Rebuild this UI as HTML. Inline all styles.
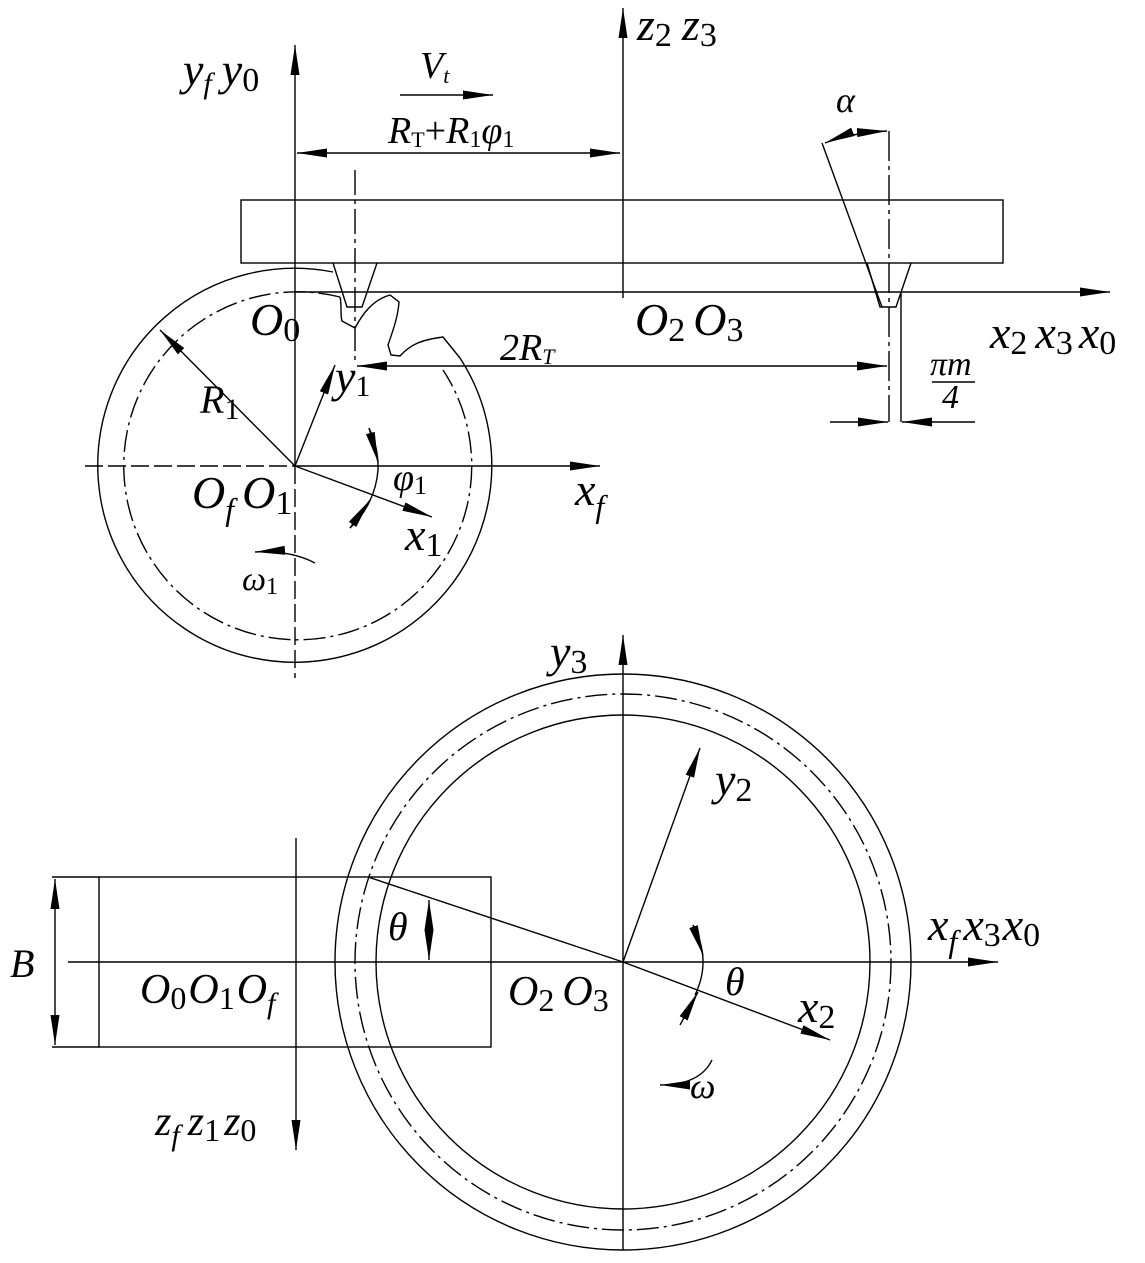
<!DOCTYPE html>
<html><head><meta charset="utf-8"><style>
html,body{margin:0;padding:0;background:#fff}
svg{display:block}
text{font-family:"Liberation Serif",serif;font-style:italic;fill:#000}
</style></head><body>
<svg width="1145" height="1263" viewBox="0 0 1145 1263" xmlns="http://www.w3.org/2000/svg">
<defs>
<marker id="a" viewBox="0 0 10 10" refX="10" refY="5" markerWidth="30" markerHeight="10" markerUnits="userSpaceOnUse" preserveAspectRatio="none" orient="auto-start-reverse"><path d="M0,0.5L10,5L0,9.5z" fill="#000"/></marker>
</defs>
<g stroke="#000" stroke-width="1.4" fill="none">
<path d="M333,272 A197,197 0 1 0 460,358"/>
<path d="M340,297 A174,174 0 1 0 443,370" stroke-dasharray="22,5,3,5"/>
<path d="M340,297 C342,305 340,315 342,321 L355,328 C362,315 372,300 390,295 L399,302 C398,315 395,325 388,345 L391,355 L400,356 C410,345 420,340 443,337 L460,358"/>
<rect x="241" y="200" width="762" height="63"/>
<path d="M333,263 L347,307 L362,307 L377,263"/>
<path d="M867,263 L880,307 L896,307 L911,263"/>
<line x1="355" y1="170" x2="355" y2="365" stroke-dasharray="25,5,4,5"/>
<line x1="889" y1="131" x2="889" y2="422" stroke-dasharray="30,5,4,5"/>
<line x1="901" y1="292" x2="901" y2="422"/>
<line x1="822" y1="143" x2="882" y2="307"/>
<path d="M825,143 Q850,133 887,131" marker-start="url(#a)" marker-end="url(#a)"/>
<line x1="295" y1="292" x2="1110" y2="292" marker-end="url(#a)"/>
<line x1="623" y1="298" x2="623" y2="8" marker-end="url(#a)"/>
<line x1="295" y1="466" x2="295" y2="45" marker-end="url(#a)"/>
<line x1="295" y1="466" x2="295" y2="678" stroke-dasharray="18,5"/>
<line x1="85" y1="466" x2="295" y2="466" stroke-dasharray="18,5"/>
<line x1="295" y1="466" x2="600" y2="466" marker-end="url(#a)"/>
<line x1="297" y1="153" x2="620" y2="153" marker-start="url(#a)" marker-end="url(#a)"/>
<line x1="400" y1="95" x2="493" y2="95" marker-end="url(#a)"/>
<line x1="357" y1="366" x2="887" y2="366" marker-start="url(#a)" marker-end="url(#a)"/>
<line x1="830" y1="422" x2="888" y2="422" marker-end="url(#a)"/>
<line x1="975" y1="422" x2="902" y2="422" marker-end="url(#a)"/>
<line x1="932" y1="382" x2="975" y2="382"/>
<line x1="295" y1="466" x2="160" y2="330" marker-end="url(#a)"/>
<line x1="295" y1="466" x2="335" y2="365" marker-end="url(#a)"/>
<line x1="295" y1="466" x2="432" y2="517" marker-end="url(#a)"/>
<path d="M369,428 A88,88 0 0 1 378,470 A88,88 0 0 1 350,528"/>
<path d="M369,428 L378,462" marker-end="url(#a)"/>
<path d="M350,528 L370,500" marker-end="url(#a)"/>
<path d="M315,563 Q290,550 255,552" marker-end="url(#a)"/>
<circle cx="623" cy="962" r="288"/>
<circle cx="623" cy="962" r="268" stroke-dasharray="22,5,3,5"/>
<circle cx="623" cy="962" r="247"/>
<line x1="623" y1="1250" x2="623" y2="635" marker-end="url(#a)"/>
<line x1="68" y1="962" x2="998" y2="962" marker-end="url(#a)"/>
<line x1="623" y1="962" x2="700" y2="748" marker-end="url(#a)"/>
<line x1="623" y1="962" x2="830" y2="1040" marker-end="url(#a)"/>
<line x1="368" y1="877" x2="623" y2="962"/>
<rect x="99" y="877" width="392" height="170"/>
<line x1="52" y1="877" x2="99" y2="877"/>
<line x1="52" y1="1047" x2="99" y2="1047"/>
<line x1="55" y1="962" x2="55" y2="879" marker-end="url(#a)"/>
<line x1="55" y1="962" x2="55" y2="1045" marker-end="url(#a)"/>
<line x1="296" y1="838" x2="296" y2="1150" marker-end="url(#a)"/>
<line x1="429" y1="930" x2="429" y2="900" marker-end="url(#a)"/>
<line x1="429" y1="930" x2="429" y2="960" marker-end="url(#a)"/>
<path d="M693,925 Q712,960 695,995"/>
<path d="M693,925 L703,955" marker-end="url(#a)"/>
<path d="M680,1025 L698,992" marker-end="url(#a)"/>
<path d="M712,1060 Q700,1085 660,1085" marker-end="url(#a)"/>
</g>
<g font-size="46">
<text x="183" y="85">y<tspan font-size="30" dy="8">f</tspan><tspan dy="-8" dx="10">y</tspan><tspan font-size="34" font-style="normal" dy="6">0</tspan></text>
<text x="637" y="40">z<tspan font-size="34" font-style="normal" dy="6">2</tspan><tspan dy="-6" dx="10">z</tspan><tspan font-size="34" font-style="normal" dy="6">3</tspan></text>
<text x="420" y="78" font-size="38">V<tspan font-size="22" dy="5">t</tspan></text>
<text x="388" y="143" font-size="38">R<tspan font-size="22" font-style="normal" dy="4">T</tspan><tspan font-style="normal" dy="-4">+</tspan>R<tspan font-size="24" font-style="normal" dy="4">1</tspan><tspan dy="-4">φ</tspan><tspan font-size="24" font-style="normal" dy="4">1</tspan></text>
<text x="836" y="112" font-size="36" font-style="normal">α</text>
<text x="635" y="335">O<tspan font-size="34" font-style="normal" dy="6">2</tspan><tspan dy="-6" dx="8">O</tspan><tspan font-size="34" font-style="normal" dy="6">3</tspan></text>
<text x="990" y="348">x<tspan font-size="34" font-style="normal" dy="6">2</tspan><tspan dy="-6" dx="8">x</tspan><tspan font-size="34" font-style="normal" dy="6">3</tspan><tspan dy="-6" dx="6">x</tspan><tspan font-size="34" font-style="normal" dy="6">0</tspan></text>
<text x="250" y="335">O<tspan font-size="34" font-style="normal" dy="6">0</tspan></text>
<text x="500" y="360" font-size="38" font-style="normal">2<tspan font-style="italic">R</tspan><tspan font-size="22" dy="4">T</tspan></text>
<text x="930" y="375" font-size="34">πm</text>
<text x="942" y="408" font-size="34">4</text>
<text x="200" y="413" font-size="40">R<tspan font-size="30" font-style="normal" dy="6">1</tspan></text>
<text x="335" y="392">y<tspan font-size="30" font-style="normal" dy="4">1</tspan></text>
<text x="393" y="490" font-size="38">φ<tspan font-size="26" font-style="normal" dy="4">1</tspan></text>
<text x="405" y="550">x<tspan font-size="34" font-style="normal" dy="6">1</tspan></text>
<text x="575" y="505">x<tspan font-size="32" dy="12">f</tspan></text>
<text x="192" y="508">O<tspan font-size="32" dy="12">f</tspan><tspan dy="-12" dx="8">O</tspan><tspan font-size="34" font-style="normal" dy="6">1</tspan></text>
<text x="242" y="590" font-size="34">ω<tspan font-size="24" font-style="normal" dy="4">1</tspan></text>
<text x="550" y="667">y<tspan font-size="34" font-style="normal" dy="6">3</tspan></text>
<text x="715" y="795">y<tspan font-size="34" font-style="normal" dy="6">2</tspan></text>
<text x="928" y="940">x<tspan font-size="32" dy="12">f</tspan><tspan dy="-12" dx="6">x</tspan><tspan font-size="34" font-style="normal" dy="6">3</tspan><tspan dy="-6" dx="2">x</tspan><tspan font-size="34" font-style="normal" dy="6">0</tspan></text>
<text x="798" y="1022">x<tspan font-size="34" font-style="normal" dy="6">2</tspan></text>
<text x="388" y="940" font-size="40">θ</text>
<text x="725" y="995" font-size="40">θ</text>
<text x="10" y="977" font-size="40">B</text>
<text x="140" y="1003" font-size="42">O<tspan font-size="32" font-style="normal" dy="6">0</tspan><tspan dy="-6" dx="2">O</tspan><tspan font-size="32" font-style="normal" dy="6">1</tspan><tspan dy="-6" dx="2">O</tspan><tspan font-size="30" dy="10">f</tspan></text>
<text x="508" y="1005" font-size="42">O<tspan font-size="32" font-style="normal" dy="6">2</tspan><tspan dy="-6" dx="8">O</tspan><tspan font-size="32" font-style="normal" dy="6">3</tspan></text>
<text x="155" y="1135" font-size="42">z<tspan font-size="30" dy="10">f</tspan><tspan dy="-10" dx="8">z</tspan><tspan font-size="32" font-style="normal" dy="6">1</tspan><tspan dy="-6" dx="4">z</tspan><tspan font-size="32" font-style="normal" dy="6">0</tspan></text>
<text x="690" y="1098" font-size="36">ω</text>
</g>
</svg>
</body></html>
